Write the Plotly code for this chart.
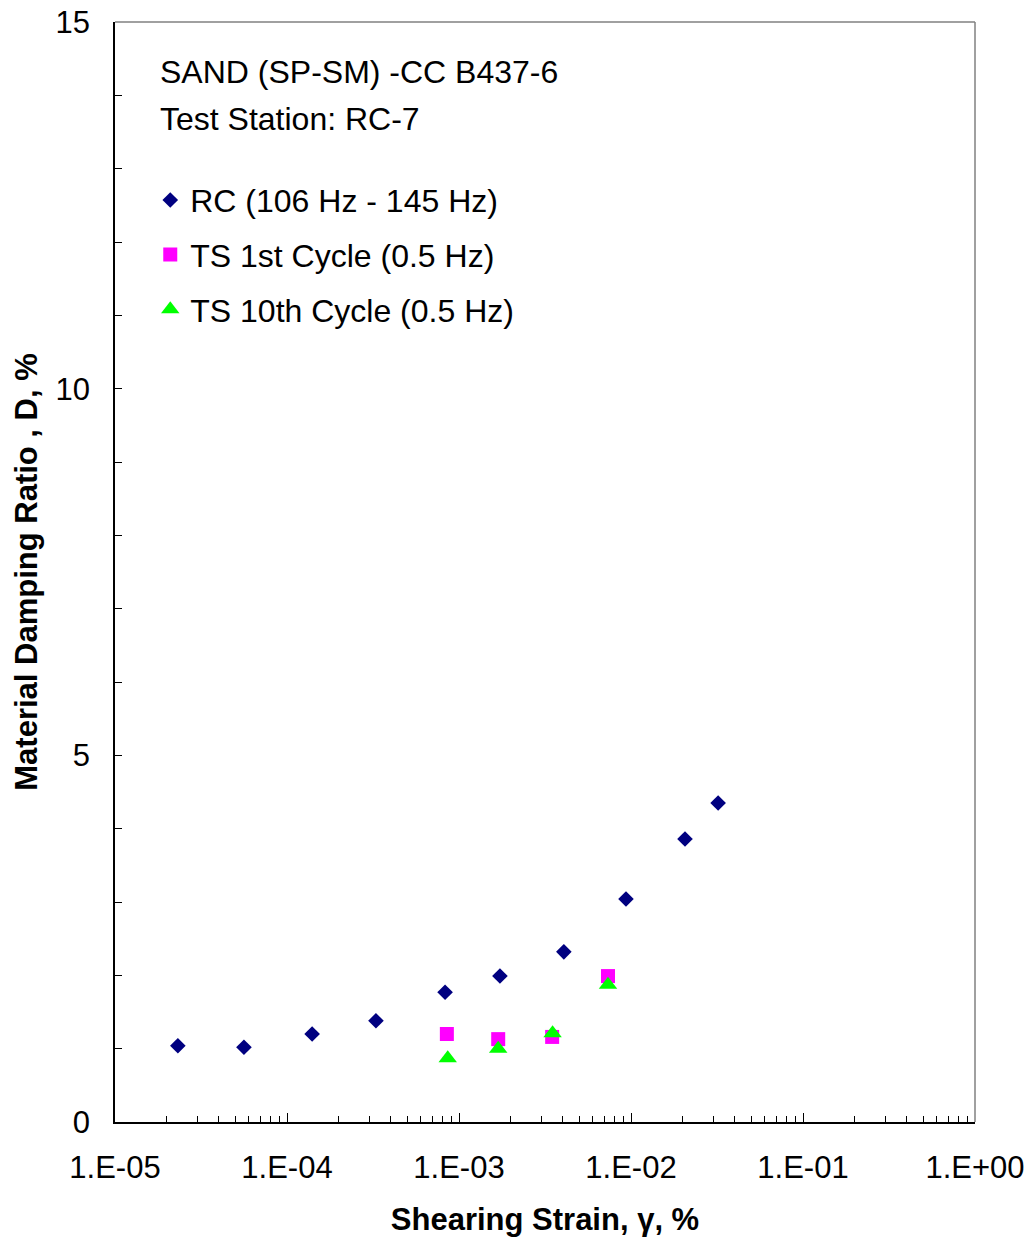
import plotly.graph_objects as go

# Data
rc_strain = [2.32e-5, 5.62e-5, 1.40e-4, 3.29e-4, 8.3e-4, 1.73e-3, 4.07e-3, 9.35e-3, 2.06e-2, 3.21e-2]
rc_damping = [1.04, 1.02, 1.20, 1.38, 1.77, 1.99, 2.32, 3.04, 3.86, 4.35]

ts1_strain = [8.5e-4, 1.69e-3, 3.48e-3, 7.35e-3]
ts1_damping = [1.20, 1.13, 1.16, 1.99]

ts10_strain = [8.6e-4, 1.69e-3, 3.50e-3, 7.35e-3]
ts10_damping = [0.87, 1.00, 1.21, 1.87]

x_tickvals = [1e-5, 1e-4, 1e-3, 1e-2, 1e-1, 1e0]
x_ticktext = ["1.E-05", "1.E-04", "1.E-03", "1.E-02", "1.E-01", "1.E+00"]
y_tickvals = [0, 5, 10, 15]

FONT = "Liberation Sans, Arial, sans-serif"
FS_TXT = 32
FS_TICK = 31
FS_TITLE = 31

minor_x = [m * 10 ** e for e in range(-5, 0) for m in range(2, 10)]

fig = go.Figure()
fig.add_trace(go.Scatter(x=rc_strain, y=rc_damping, mode="markers", name="RC (106 Hz - 145 Hz)",
                         legendgroup="a",
                         marker=dict(symbol="diamond", size=12, color="#000080")))
fig.add_trace(go.Scatter(x=ts1_strain, y=ts1_damping, mode="markers", name="TS 1st Cycle (0.5 Hz)",
                         legendgroup="b",
                         marker=dict(symbol="square", size=14, color="#FF00FF")))
fig.add_trace(go.Scatter(x=ts10_strain, y=ts10_damping, mode="markers", name="TS 10th Cycle (0.5 Hz)",
                         legendgroup="c",
                         marker=dict(symbol="triangle-up", size=16, color="#00FF00")))

fig.update_layout(
    width=1032, height=1243,
    margin=dict(l=115, r=57, t=22, b=121),
    plot_bgcolor="white", paper_bgcolor="white",
    font=dict(family=FONT, size=FS_TXT, color="black"),
    showlegend=True,
    legend=dict(x=0.041, y=0.863, xanchor="left", yanchor="top", bgcolor="rgba(0,0,0,0)",
                font=dict(size=FS_TXT), tracegroupgap=10, itemsizing="trace"),
    xaxis=dict(type="log", range=[-5, 0], tickvals=x_tickvals, ticktext=x_ticktext,
               tickfont=dict(size=FS_TICK), automargin=False,
               ticks="inside", ticklen=9, tickcolor="black", showline=True, linecolor="black",
               linewidth=1.5, showgrid=False, zeroline=False, ticklabelstandoff=17,
               minor=dict(tickvals=minor_x, ticks="inside", ticklen=6, tickcolor="black", showgrid=False),
               title=dict(text="<b>Shearing Strain, γ, %</b>", font=dict(size=FS_TITLE), standoff=24)),
    yaxis=dict(range=[0, 15], tickvals=y_tickvals, ticks="inside", ticklen=7, tickcolor="black",
               tickfont=dict(size=FS_TICK), automargin=False,
               showline=True, linecolor="black", linewidth=1.5, showgrid=False, zeroline=False,
               ticklabelstandoff=17,
               minor=dict(dtick=1, ticks="inside", ticklen=7, tickcolor="black", showgrid=False),
               title=dict(text="<b>Material Damping Ratio , D, %</b>", font=dict(size=FS_TITLE), standoff=9)),
    shapes=[
        dict(type="line", xref="paper", yref="paper", x0=0, x1=1, y0=1, y1=1,
             line=dict(color="#808080", width=1.5)),
        dict(type="line", xref="paper", yref="paper", x0=1, x1=1, y0=0, y1=1,
             line=dict(color="#808080", width=1.5)),
    ],
    annotations=[
        dict(text="SAND (SP-SM) -CC B437-6", xref="paper", yref="paper", x=0.05, y=0.9545,
             xanchor="left", yanchor="middle", showarrow=False, font=dict(size=FS_TXT)),
        dict(text="Test Station: RC-7", xref="paper", yref="paper", x=0.05, y=0.912,
             xanchor="left", yanchor="middle", showarrow=False, font=dict(size=FS_TXT)),
    ],
)

fig.write_html("out.html")
